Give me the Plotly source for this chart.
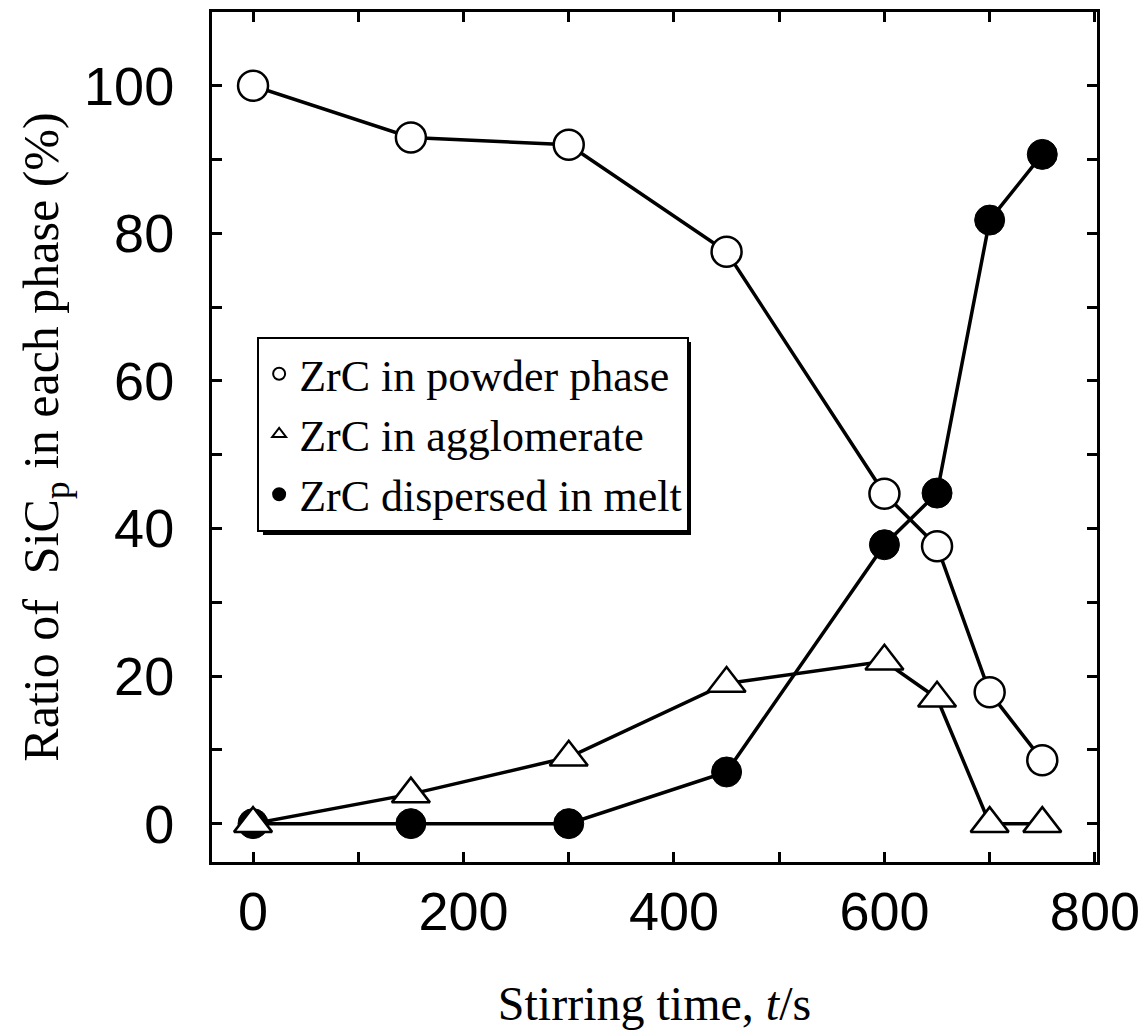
import plotly.graph_objects as go

# ---- data ----
stir_time = [0, 150, 300, 450, 600, 650, 700, 750]
powder_phase = [100, 93, 92, 77.5, 44.7, 37.6, 17.8, 8.6]
agglomerate = [0, 4, 9, 19, 22, 17, 0, 0]
dispersed = [0, 0, 0, 7, 37.8, 44.8, 81.8, 90.7]

names = ["ZrC in powder phase", "ZrC in agglomerate", "ZrC dispersed in melt"]
x_ticks = [0, 200, 400, 600, 800]
y_ticks = [0, 20, 40, 60, 80, 100]

serif = "Liberation Serif, Times New Roman, serif"
sans = "Liberation Sans, Arial, sans-serif"

fig = go.Figure()

line_style = dict(color="black", width=3.5)

# powder phase: open circles
fig.add_trace(go.Scatter(
    x=stir_time, y=powder_phase, mode="lines+markers", showlegend=False,
    line=line_style,
    marker=dict(symbol="circle", size=30, color="white", line=dict(color="black", width=2.5)),
))
# dispersed: filled circles
fig.add_trace(go.Scatter(
    x=stir_time, y=dispersed, mode="lines+markers", showlegend=False,
    line=line_style,
    marker=dict(symbol="circle", size=30, color="black", line=dict(color="black", width=1)),
))
# agglomerate: open triangles
fig.add_trace(go.Scatter(
    x=stir_time, y=agglomerate, mode="lines+markers", showlegend=False,
    line=line_style,
    marker=dict(symbol="triangle-up", size=33, color="white", line=dict(color="black", width=2.5)),
))

# legend entries (markers only)
legend_markers = [
    dict(symbol="circle", color="white", line=dict(color="black", width=2.5)),
    dict(symbol="triangle-up", color="white", line=dict(color="black", width=2.5)),
    dict(symbol="circle", color="black", line=dict(color="black", width=1)),
]
for nm, mk in zip(names, legend_markers):
    fig.add_trace(go.Scatter(x=[None], y=[None], mode="markers", name=nm,
                             marker=dict(size=22, **mk)))

axis_common = dict(
    showline=True, linecolor="black", linewidth=3, mirror="ticks",
    ticks="inside", ticklen=10, tickwidth=2.5, tickcolor="black",
    showgrid=False, zeroline=False,
    tickfont=dict(family=sans, size=54, color="black"),
)

fig.update_xaxes(
    **axis_common,
    range=[-39, 802], tickvals=x_ticks, ticktext=[str(v) for v in x_ticks],
    minor=dict(dtick=100, tick0=0, ticks="inside", ticklen=10, tickwidth=2.5, tickcolor="black"),
    ticklabelstandoff=0,
    title=dict(text="Stirring time, <i>t</i>/s", font=dict(family=serif, size=48, color="black"), standoff=47),
)
fig.update_yaxes(
    **axis_common,
    range=[-5.2, 110], tickvals=y_ticks, ticktext=[str(v) for v in y_ticks],
    minor=dict(dtick=10, tick0=0, ticks="inside", ticklen=10, tickwidth=2.5, tickcolor="black"),
    ticklabelstandoff=24,
    title=dict(text="Ratio of  SiC<sub>p</sub> in each phase (%)", font=dict(family=serif, size=50, color="black"), standoff=10),
)

# legend drop shadow (offset rectangle behind the legend box)
fig.add_shape(type="rect", xref="paper", yref="paper",
              x0=(263 - 212) / 885, x1=(691 - 212) / 885,
              y0=(862 - 535) / 850, y1=(862 - 342) / 850,
              fillcolor="black", line=dict(width=0), layer="above")

fig.update_layout(
    width=1146, height=1036,
    margin=dict(l=212, r=49, t=12, b=174, autoexpand=False),
    paper_bgcolor="white", plot_bgcolor="white",
    legend=dict(
        x=0.051, y=0.618, xanchor="left", yanchor="top",
        bgcolor="white", bordercolor="black", borderwidth=2,
        font=dict(family=serif, size=44, color="black"),
        itemsizing="constant", tracegroupgap=0,
    ),
)

fig.write_html("out.html")
